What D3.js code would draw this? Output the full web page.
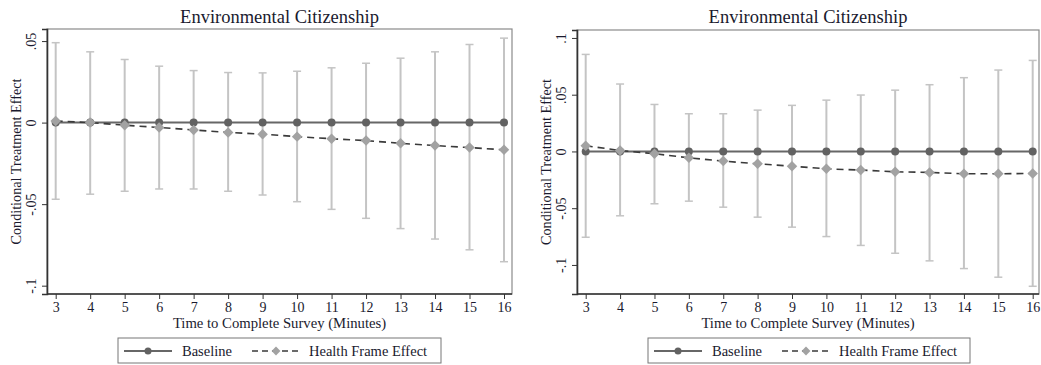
<!DOCTYPE html>
<html>
<head>
<meta charset="utf-8">
<script src="https://cdn.jsdelivr.net/npm/d3@7"></script>
<style>
  body { margin: 0; background: #fff; }
  svg text { font-family: "Liberation Serif", "DejaVu Serif", serif; fill: #1a1a2e; }
</style>
</head>
<body>
<svg id="chart" width="1041" height="365"></svg>
<script>
// minutes to complete the survey
const minutes = [3, 4, 5, 6, 7, 8, 9, 10, 11, 12, 13, 14, 15, 16];

// left panel
const leftBaseline = [0, 0, 0, 0, 0, 0, 0, 0, 0, 0, 0, 0, 0, 0];
const leftHealth = [0.001, 0.0, -0.0016, -0.003, -0.0045, -0.006, -0.0071, -0.0086, -0.0099, -0.011, -0.0127, -0.0141, -0.0153, -0.0167];
const leftUpper = [0.049, 0.0434, 0.0387, 0.0346, 0.0319, 0.0307, 0.0305, 0.0315, 0.0336, 0.0364, 0.0395, 0.0434, 0.0479, 0.0518];
const leftLower = [-0.047, -0.0439, -0.0421, -0.0407, -0.0407, -0.0421, -0.0444, -0.0485, -0.0532, -0.0587, -0.065, -0.0714, -0.078, -0.0853];
const leftTicks = [0.05, 0, -0.05, -0.1];
const leftTickLabels = [".05", "0", "-.05", "-.1"];

// right panel
const rightBaseline = [0, 0, 0, 0, 0, 0, 0, 0, 0, 0, 0, 0, 0, 0];
const rightHealth = [0.005, 0.0009, -0.002, -0.0056, -0.0085, -0.0109, -0.013, -0.0153, -0.0164, -0.0179, -0.0185, -0.0197, -0.0197, -0.0194];
const rightUpper = [0.0855, 0.0594, 0.0414, 0.0332, 0.0332, 0.0364, 0.0406, 0.0452, 0.0497, 0.054, 0.0588, 0.065, 0.0717, 0.0802];
const rightLower = [-0.0756, -0.0567, -0.0461, -0.0438, -0.0491, -0.0579, -0.0667, -0.075, -0.0828, -0.0897, -0.0964, -0.1032, -0.1108, -0.1188];
const rightTicks = [0.1, 0.05, 0, -0.05, -0.1];
const rightTickLabels = [".1", ".05", "0", "-.05", "-.1"];

const titleText = "Environmental Citizenship";
const xTitle = "Time to Complete Survey (Minutes)";
const yTitle = "Conditional Treatment Effect";
const legendNames = ["Baseline", "Health Frame Effect"];

const svg = d3.select("#chart");

function drawPanel(p) {
    const g = svg.append("g");

    const x = d3.scaleLinear()
        .domain([3, 16])
        .range([p.x3, p.x16]);

    const y = d3.scaleLinear()
        .domain(p.yDomain)
        .range([p.bottom, p.top]);

    // plot region outline
    g.append("rect")
        .attr("x", p.left)
        .attr("y", p.top)
        .attr("width", p.right - p.left)
        .attr("height", p.bottom - p.top)
        .attr("fill", "none")
        .attr("stroke", "#8a8a8a")
        .attr("stroke-width", 1.2);

    // y axis
    const yAxis = g.append("g")
        .attr("transform", `translate(${p.left},0)`)
        .call(d3.axisLeft(y).tickValues(p.ticks).tickSize(5).tickFormat((d, i) => p.tickLabels[i]));
    yAxis.select(".domain").attr("stroke", "#333").attr("stroke-width", 1.6);
    yAxis.selectAll(".tick line").attr("stroke", "#333");
    yAxis.selectAll(".tick text")
        .attr("x", 0).attr("dy", 0)
        .attr("transform", "translate(-11,0) rotate(-90)")
        .attr("text-anchor", "middle")
        .style("font-size", "14px");

    // x axis
    const xAxis = g.append("g")
        .attr("transform", `translate(0,${p.bottom})`)
        .call(d3.axisBottom(x).tickValues(minutes).tickSize(5).tickFormat(d3.format("d")));
    xAxis.select(".domain").attr("d", `M${p.left},0H${p.right}`).attr("stroke", "#333").attr("stroke-width", 1.6);
    xAxis.selectAll(".tick line").attr("stroke", "#333");
    xAxis.selectAll(".tick text").attr("y", 8).style("font-size", "14px");

    // confidence intervals
    const ci = g.append("g").attr("stroke", "#c4c4c4").attr("stroke-width", 2);
    minutes.forEach((m, i) => {
        ci.append("line")
            .attr("x1", x(m)).attr("x2", x(m))
            .attr("y1", y(p.upper[i])).attr("y2", y(p.lower[i]));
        [p.upper[i], p.lower[i]].forEach(v => {
            ci.append("line")
                .attr("x1", x(m) - 4).attr("x2", x(m) + 4)
                .attr("y1", y(v)).attr("y2", y(v))
                .attr("stroke-width", 1.5);
        });
    });

    const line = d3.line()
        .x((d, i) => x(minutes[i]))
        .y(d => y(d));

    // baseline
    g.append("path")
        .datum(p.baseline)
        .attr("d", line)
        .attr("fill", "none")
        .attr("stroke", "#676767")
        .attr("stroke-width", 2);
    g.selectAll(".base-pt")
        .data(p.baseline)
        .enter()
        .append("circle")
        .attr("cx", (d, i) => x(minutes[i]))
        .attr("cy", d => y(d))
        .attr("r", 4)
        .attr("fill", "#626262");

    // health frame effect
    g.append("path")
        .datum(p.health)
        .attr("d", line)
        .attr("fill", "none")
        .attr("stroke", "#3a3a3a")
        .attr("stroke-width", 1.6)
        .attr("stroke-dasharray", "7,5");
    g.selectAll(".health-pt")
        .data(p.health)
        .enter()
        .append("path")
        .attr("d", d3.symbol().type(d3.symbolDiamond2).size(70))
        .attr("transform", (d, i) => `translate(${x(minutes[i])},${y(d)})`)
        .attr("fill", "#a2a2a2");

    // titles
    const mid = (p.left + p.right) / 2;
    g.append("text")
        .attr("x", mid).attr("y", 23)
        .attr("text-anchor", "middle")
        .style("font-size", "18.5px")
        .text(titleText);
    g.append("text")
        .attr("x", mid).attr("y", 328)
        .attr("text-anchor", "middle")
        .style("font-size", "14.7px")
        .text(xTitle);
    g.append("text")
        .attr("transform", `translate(${p.yTitleX},${(p.top + p.bottom) / 2}) rotate(-90)`)
        .attr("text-anchor", "middle")
        .style("font-size", "14.2px")
        .text(yTitle);

    // legend
    const lg = g.append("g").attr("transform", `translate(${p.legendX},338)`);
    lg.append("rect")
        .attr("width", p.legendW).attr("height", 25)
        .attr("fill", "#fff")
        .attr("stroke", "#777").attr("stroke-width", 1);
    lg.append("line")
        .attr("x1", 6).attr("x2", 54).attr("y1", 13).attr("y2", 13)
        .attr("stroke", "#676767").attr("stroke-width", 2);
    lg.append("circle").attr("cx", 30).attr("cy", 13).attr("r", 3.5).attr("fill", "#626262");
    lg.append("text").attr("x", 64).attr("y", 18).style("font-size", "14.5px").text(legendNames[0]);
    lg.append("line")
        .attr("x1", 134).attr("x2", 182).attr("y1", 13).attr("y2", 13)
        .attr("stroke", "#3a3a3a").attr("stroke-width", 1.5).attr("stroke-dasharray", "6,4");
    lg.append("path")
        .attr("d", d3.symbol().type(d3.symbolDiamond2).size(50))
        .attr("transform", "translate(158,13)")
        .attr("fill", "#a2a2a2");
    lg.append("text").attr("x", 191).attr("y", 18).style("font-size", "14.5px").text(legendNames[1]);
}

drawPanel({
    left: 47, right: 512, top: 29, bottom: 294,
    x3: 55.7, x16: 504,
    yDomain: [-0.1051, 0.0574],
    ticks: leftTicks, tickLabels: leftTickLabels,
    baseline: leftBaseline, health: leftHealth, upper: leftUpper, lower: leftLower,
    yTitleX: 21, legendX: 118, legendW: 323
});

drawPanel({
    left: 577, right: 1039, top: 30, bottom: 294,
    x3: 585.7, x16: 1032.7,
    yDomain: [-0.1256, 0.107],
    ticks: rightTicks, tickLabels: rightTickLabels,
    baseline: rightBaseline, health: rightHealth, upper: rightUpper, lower: rightLower,
    yTitleX: 551, legendX: 648, legendW: 322
});
</script>
</body>
</html>
